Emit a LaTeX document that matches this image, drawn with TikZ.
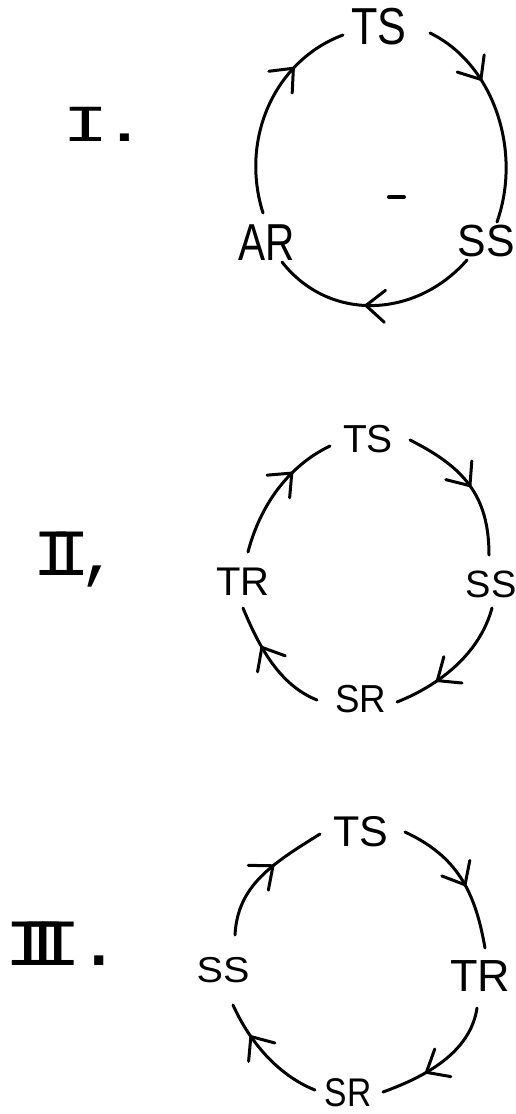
\documentclass[tikz,border=0pt]{standalone}
\usepackage{fontspec}
\setmainfont{Liberation Sans}
\newfontfamily\hand{Liberation Sans}
\newfontfamily\numfont{Liberation Mono}
\usetikzlibrary{decorations.markings}

% state label: size, horizontal stretch, text
\newcommand\cyclabel[3]{{\hand\fontsize{#1}{#1}\selectfont\addfontfeature{FakeStretch=#2}#3}}
% roman numeral heading: size, horizontal stretch, text
\newcommand\numlabel[3]{{\numfont\fontsize{#1}{#1}\selectfont\addfontfeature{FakeStretch=#2}#3}}

\tikzset{
  state/.style={inner sep=0pt, anchor=center},
  numeral/.style={inner sep=0pt, anchor=base west},
  flow/.style={draw, postaction={decorate},
    decoration={markings, mark=at position #1 with
      {\draw (-19pt,16pt) -- (0pt,0pt) -- (-19pt,-16pt);}}}
}

\begin{document}
\begin{tikzpicture}[x=1pt, y=-1pt, line width=3pt, line cap=round, line join=round]
\path[use as bounding box, fill=white] (0,0) rectangle (515,1114);

% ---------- cycle I ----------
\node[numeral] (n1) at (61,141) {\numlabel{52pt}{1.5}{I\kern-8pt.}};
\node[state] (ts1) at (379,27)  {\cyclabel{52pt}{0.83}{TS}};
\node[state] (ss1) at (486,241) {\cyclabel{45pt}{0.95}{SS}};
\node[state] (ar1) at (267,243) {\cyclabel{52pt}{0.78}{AR}};
\draw[line width=4pt] (389,197) -- (404,197);

\draw[flow=0.72] ([shift={(-4,-30)}]ar1.center)
  .. controls (239.3,137.8) and (275.7,60.0) .. ([shift={(-36,8)}]ts1.center);
\draw[flow=0.32] ([shift={(51,6)}]ts1.center)
  .. controls (492.8,63.5) and (522.5,149.7) .. ([shift={(11,-19)}]ss1.center);
\draw[flow=0.54] ([shift={(-19,19)}]ss1.center)
  .. controls (416.4,317.9) and (329.9,322.9) .. ([shift={(15,19)}]ar1.center);

% ---------- cycle II ----------
\node[numeral] (n2) at (32,575) {\numlabel{66pt}{1.0}{I\kern-22.6pt I\kern-11pt,}};
\node[state] (ts2) at (368,439) {\cyclabel{39pt}{1.0}{TS}};
\node[state] (ss2) at (491,584) {\cyclabel{38pt}{1.0}{SS}};
\node[state] (tr2) at (243,582) {\cyclabel{40pt}{1.0}{TR}};
\node[state] (sr2) at (361,699) {\cyclabel{39pt}{0.94}{SR}};

\draw[flow=0.66] ([shift={(5,-30)}]tr2.center)
  .. controls (259.8,506.4) and (287.7,466.2) .. ([shift={(-38,7)}]ts2.center);
\draw[flow=0.51] ([shift={(42,1)}]ts2.center)
  .. controls (463.4,467) and (489,495) .. ([shift={(-2,-29)}]ss2.center);
\draw[flow=0.67] ([shift={(1,24)}]ss2.center)
  .. controls (479.8,653.1) and (440.7,684.6) .. ([shift={(36,3)}]sr2.center);
\draw[flow=0.64] ([shift={(-44,1)}]sr2.center)
  .. controls (278.9,684.8) and (258.6,645.7) .. ([shift={(0,26)}]tr2.center);

% ---------- cycle III ----------
\node[numeral] (n3) at (3,965) {\numlabel{66pt}{1.2}{I\kern-32.5pt I\kern-32.5pt I\kern-7pt.}};
\node[state] (ts3) at (361,832)  {\cyclabel{43pt}{1.0}{TS}};
\node[state] (tr3) at (480,976)  {\cyclabel{45pt}{1.0}{TR}};
\node[state] (ss3) at (223,970)  {\cyclabel{36pt}{1.1}{SS}};
\node[state] (sr3) at (348,1093) {\cyclabel{40pt}{0.84}{SR}};

\draw[flow=0.59] ([shift={(12,-35)}]ss3.center)
  .. controls (237.5,885) and (273.25,863.2) .. ([shift={(-41,2)}]ts3.center);
\draw[flow=0.55] ([shift={(44,0)}]ts3.center)
  .. controls (457.2,856.4) and (475.1,891.2) .. ([shift={(5,-28)}]tr3.center);
\draw[flow=0.64] ([shift={(-3,32)}]tr3.center)
  .. controls (470.3,1052.6) and (425.3,1076.7) .. ([shift={(35,-1)}]sr3.center);
\draw[flow=0.70] ([shift={(-33,-3)}]sr3.center)
  .. controls (277.8,1075.2) and (249.4,1041.4) .. ([shift={(10,35)}]ss3.center);
\end{tikzpicture}
\end{document}
